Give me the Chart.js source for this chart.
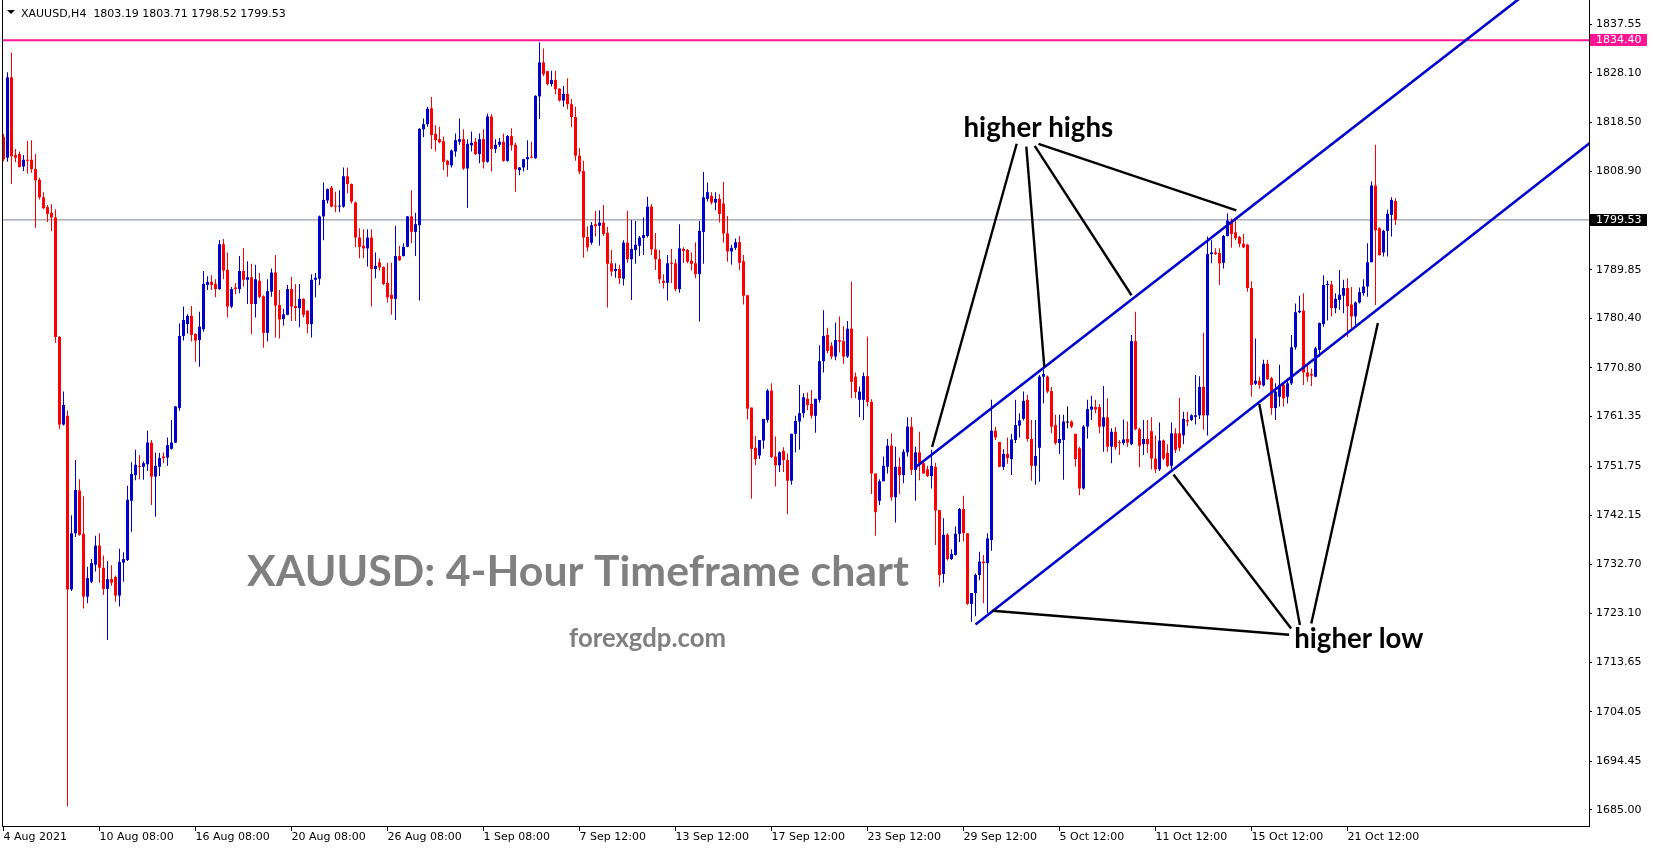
<!DOCTYPE html>
<html>
<head>
<meta charset="utf-8">
<title>XAUUSD H4</title>
<script src="https://cdn.jsdelivr.net/npm/chart.js@4.4.0/dist/chart.umd.min.js"></script>
<style>
  html, body { margin: 0; padding: 0; background: #fff; overflow: hidden; }
</style>
</head>
<body>
<canvas id="chart" width="1653" height="850"></canvas>
<script>
((Chart) => {

  // OHLC por vela H4 (indice 0 = 4 Aug 2021 00:00)
  const opens = [
    1815.6, 1811.6, 1827.2, 1812.1, 1812.3, 1809.9, 1811.2, 1811.2, 1809.4, 1807.3,
    1803.9, 1802.0, 1800.9, 1800.0, 1776.8, 1759.8, 1761.5, 1727.8, 1738.7, 1747.0,
    1738.6, 1726.4, 1729.3, 1732.6, 1736.3, 1732.0, 1727.9, 1729.8, 1730.2, 1726.6,
    1733.0, 1733.5, 1745.0, 1750.0, 1751.8, 1751.6, 1752.1, 1756.3, 1749.7, 1751.6,
    1753.6, 1753.4, 1755.1, 1756.3, 1763.0, 1777.0, 1779.3, 1780.9, 1777.4, 1776.2,
    1778.3, 1786.9, 1787.5, 1787.1, 1786.1, 1794.8, 1789.8, 1782.7, 1786.4, 1786.1,
    1789.6, 1787.9, 1788.4, 1783.2, 1787.7, 1784.7, 1777.6, 1785.6, 1789.3, 1783.0,
    1780.3, 1781.1, 1786.1, 1782.8, 1782.4, 1784.2, 1781.9, 1779.3, 1787.9, 1788.1,
    1800.2, 1803.3, 1805.8, 1802.2, 1802.1, 1802.1, 1808.0, 1806.5, 1802.9, 1796.1,
    1794.5, 1794.0, 1796.1, 1790.0, 1791.3, 1790.4, 1787.3, 1785.0, 1784.2, 1792.5,
    1792.5, 1794.3, 1800.2, 1797.2, 1798.5, 1817.1, 1818.1, 1821.2, 1816.2, 1815.2,
    1814.8, 1811.0, 1810.1, 1812.8, 1814.7, 1815.2, 1809.5, 1814.0, 1814.7, 1812.3,
    1815.2, 1810.8, 1819.6, 1813.3, 1814.1, 1814.7, 1811.0, 1815.8, 1814.1, 1809.2,
    1809.7, 1811.3, 1811.7, 1811.5, 1823.5, 1830.1, 1828.4, 1825.9, 1826.7, 1825.0,
    1822.7, 1824.0, 1822.0, 1819.5, 1812.0, 1809.0, 1796.2, 1795.1, 1798.7, 1798.4,
    1799.0, 1797.0, 1791.1, 1789.6, 1790.0, 1788.1, 1795.1, 1791.9, 1793.7, 1794.5,
    1796.0, 1796.4, 1802.1, 1793.8, 1791.9, 1787.7, 1787.3, 1791.2, 1791.1, 1786.1,
    1793.9, 1793.7, 1791.6, 1791.1, 1789.0, 1797.2, 1803.6, 1804.2, 1802.9, 1803.6,
    1802.7, 1796.9, 1793.4, 1794.1, 1795.2, 1791.5, 1784.9, 1763.1, 1755.3, 1753.8,
    1756.7, 1760.7, 1766.4, 1753.6, 1751.9, 1754.7, 1752.9, 1748.9, 1758.0, 1760.4,
    1762.0, 1764.8, 1763.8, 1761.5, 1764.6, 1772.1, 1777.2, 1775.1, 1773.0, 1776.2,
    1776.0, 1773.0, 1778.4, 1769.1, 1764.6, 1764.6, 1769.2, 1764.2, 1750.3, 1745.0,
    1748.8, 1751.6, 1755.7, 1745.7, 1751.6, 1750.0, 1754.4, 1759.4, 1751.0, 1754.4,
    1752.3, 1751.1, 1749.8, 1751.6, 1743.2, 1730.8, 1738.4, 1733.7, 1734.5, 1738.6,
    1743.4, 1738.7, 1725.0, 1727.1, 1730.6, 1733.2, 1732.9, 1737.4, 1758.6, 1756.4,
    1751.6, 1754.1, 1753.1, 1756.8, 1759.6, 1760.9, 1764.6, 1757.0, 1751.8, 1755.3,
    1769.1, 1769.1, 1766.3, 1759.7, 1756.2, 1756.8, 1760.2, 1760.4, 1758.0, 1755.2,
    1747.4, 1759.4, 1762.7, 1763.2, 1763.2, 1759.4, 1761.2, 1755.5, 1758.4, 1756.4,
    1756.2, 1757.0, 1756.0, 1776.0, 1758.9, 1756.0, 1757.0, 1758.5, 1753.2, 1751.1,
    1756.7, 1754.3, 1751.8, 1758.1, 1758.1, 1757.7, 1760.7, 1760.7, 1761.3, 1761.6,
    1767.1, 1761.6, 1792.9, 1793.2, 1793.1, 1791.2, 1796.4, 1799.2, 1797.1, 1796.2,
    1794.9, 1794.7, 1786.3, 1767.7, 1768.3, 1767.4, 1771.6, 1768.8, 1763.0, 1765.2,
    1767.5, 1765.2, 1767.8, 1774.8, 1781.6, 1781.9, 1769.9, 1769.6, 1769.1, 1774.3,
    1779.3, 1786.9, 1787.0, 1782.4, 1784.0, 1784.8, 1786.3, 1783.1, 1780.8, 1783.5,
    1785.3, 1786.6, 1791.3, 1806.2, 1797.9, 1793.2, 1797.4, 1800.5, 1803.19
  ];
  const highs = [
    1816.2, 1828.2, 1832.0, 1813.3, 1812.8, 1812.1, 1814.9, 1815.0, 1812.3, 1807.7,
    1804.9, 1802.4, 1802.6, 1801.6, 1777.0, 1766.2, 1762.6, 1742.2, 1752.9, 1749.2,
    1745.9, 1732.2, 1733.7, 1738.2, 1738.7, 1734.4, 1733.3, 1732.5, 1730.5, 1735.7,
    1735.0, 1747.9, 1752.5, 1754.9, 1753.9, 1752.7, 1758.6, 1756.8, 1754.4, 1754.3,
    1754.4, 1757.3, 1760.7, 1763.4, 1779.4, 1782.7, 1781.2, 1782.8, 1777.5, 1781.7,
    1789.6, 1788.6, 1788.8, 1788.0, 1795.6, 1795.8, 1793.2, 1786.5, 1787.3, 1792.5,
    1794.0, 1791.5, 1791.0, 1790.8, 1789.2, 1784.9, 1788.0, 1790.1, 1792.7, 1785.9,
    1782.3, 1786.9, 1788.5, 1787.1, 1787.1, 1784.3, 1782.0, 1789.0, 1789.2, 1800.4,
    1806.8, 1805.6, 1806.1, 1805.0, 1805.3, 1809.7, 1809.7, 1806.6, 1803.1, 1797.9,
    1797.7, 1797.7, 1797.7, 1793.2, 1792.1, 1790.5, 1791.2, 1791.2, 1798.4, 1794.5,
    1795.0, 1800.3, 1805.3, 1800.9, 1817.3, 1819.2, 1821.5, 1823.4, 1817.9, 1817.6,
    1815.7, 1811.2, 1813.2, 1816.3, 1819.2, 1817.1, 1815.2, 1816.7, 1815.4, 1816.3,
    1817.1, 1820.2, 1820.1, 1815.2, 1815.4, 1816.3, 1816.0, 1817.3, 1814.5, 1809.8,
    1811.4, 1815.0, 1814.7, 1823.7, 1834.0, 1832.8, 1828.5, 1828.5, 1828.5, 1825.1,
    1825.5, 1827.0, 1823.0, 1821.5, 1813.5, 1811.0, 1798.3, 1799.1, 1801.3, 1801.4,
    1802.4, 1798.2, 1793.7, 1791.1, 1790.8, 1795.6, 1801.3, 1799.5, 1799.3, 1796.4,
    1800.0, 1804.0, 1802.6, 1797.0, 1793.7, 1789.0, 1792.7, 1793.9, 1791.9, 1798.7,
    1794.2, 1793.9, 1793.2, 1795.2, 1799.3, 1808.8, 1806.8, 1804.9, 1804.9, 1804.5,
    1806.9, 1800.3, 1794.7, 1795.9, 1796.4, 1792.7, 1784.9, 1763.1, 1757.6, 1756.8,
    1760.9, 1766.7, 1767.8, 1757.5, 1754.6, 1755.4, 1754.2, 1758.0, 1761.5, 1767.5,
    1765.9, 1766.0, 1766.5, 1764.8, 1775.2, 1782.0, 1778.6, 1775.8, 1779.6, 1780.8,
    1778.9, 1779.9, 1787.5, 1769.9, 1767.2, 1769.9, 1776.9, 1764.7, 1750.3, 1749.2,
    1753.6, 1757.0, 1758.1, 1755.5, 1753.4, 1755.0, 1761.2, 1761.2, 1755.5, 1758.4,
    1752.7, 1751.8, 1754.9, 1752.4, 1743.2, 1741.6, 1738.7, 1735.6, 1740.0, 1743.6,
    1746.0, 1738.7, 1727.1, 1730.9, 1735.1, 1734.5, 1738.7, 1764.6, 1759.4, 1756.4,
    1755.0, 1757.3, 1758.0, 1764.6, 1762.0, 1766.2, 1765.6, 1760.7, 1760.7, 1769.4,
    1770.5, 1769.3, 1767.1, 1761.7, 1761.7, 1761.7, 1763.3, 1760.6, 1758.0, 1755.5,
    1759.7, 1764.6, 1765.4, 1764.6, 1763.8, 1767.3, 1764.9, 1759.1, 1759.4, 1756.8,
    1760.8, 1760.4, 1777.2, 1781.7, 1759.2, 1760.7, 1760.7, 1761.2, 1757.7, 1760.2,
    1756.9, 1756.0, 1760.2, 1759.1, 1765.0, 1762.3, 1762.3, 1761.8, 1769.4, 1769.2,
    1777.6, 1796.3, 1795.6, 1794.0, 1794.0, 1796.6, 1800.8, 1799.8, 1799.8, 1796.4,
    1796.8, 1794.9, 1787.6, 1776.5, 1769.1, 1772.4, 1772.4, 1769.1, 1767.8, 1771.4,
    1767.8, 1768.8, 1777.2, 1783.3, 1784.8, 1785.3, 1771.7, 1770.7, 1774.9, 1779.6,
    1788.8, 1787.7, 1787.7, 1785.3, 1789.8, 1787.9, 1788.2, 1786.5, 1783.7, 1786.4,
    1788.0, 1795.0, 1807.0, 1814.1, 1798.1, 1797.6, 1801.5, 1803.9, 1803.71
  ];
  const lows = [
    1810.9, 1810.8, 1806.5, 1810.7, 1809.7, 1809.0, 1808.5, 1808.7, 1798.0, 1803.5,
    1801.6, 1799.1, 1797.3, 1775.7, 1758.9, 1759.6, 1685.7, 1727.5, 1738.0, 1738.2,
    1724.1, 1725.1, 1729.0, 1731.3, 1729.1, 1726.7, 1718.0, 1728.5, 1725.4, 1724.5,
    1729.3, 1733.3, 1739.0, 1749.0, 1749.2, 1749.1, 1750.8, 1744.2, 1741.9, 1749.8,
    1752.3, 1751.8, 1754.9, 1756.2, 1762.5, 1776.1, 1777.5, 1775.9, 1772.0, 1771.0,
    1777.8, 1785.9, 1785.9, 1784.5, 1785.9, 1788.0, 1780.6, 1782.4, 1785.1, 1785.3,
    1786.6, 1783.2, 1777.4, 1780.6, 1784.3, 1774.7, 1775.9, 1784.6, 1776.7, 1776.5,
    1779.0, 1781.0, 1779.9, 1779.9, 1778.7, 1780.6, 1777.5, 1776.7, 1784.5, 1786.9,
    1795.6, 1802.7, 1802.0, 1801.0, 1801.0, 1801.9, 1804.7, 1802.7, 1794.2, 1792.1,
    1792.1, 1790.5, 1782.7, 1788.2, 1789.7, 1786.9, 1783.5, 1781.1, 1780.1, 1791.6,
    1792.4, 1794.2, 1795.0, 1792.5, 1783.9, 1815.6, 1817.6, 1813.3, 1812.8, 1814.4,
    1809.2, 1807.9, 1809.7, 1811.8, 1814.1, 1809.2, 1801.9, 1812.8, 1812.1, 1810.5,
    1809.5, 1810.6, 1808.9, 1812.5, 1813.7, 1810.8, 1810.8, 1813.0, 1805.0, 1808.2,
    1808.9, 1809.2, 1811.5, 1811.4, 1819.1, 1827.4, 1825.6, 1825.4, 1823.9, 1822.5,
    1821.5, 1821.0, 1817.5, 1811.0, 1808.4, 1792.2, 1793.4, 1794.7, 1796.3, 1794.5,
    1796.4, 1782.5, 1788.6, 1788.3, 1787.1, 1786.8, 1791.2, 1784.0, 1791.0, 1792.5,
    1792.7, 1796.1, 1792.7, 1789.8, 1787.2, 1786.2, 1783.9, 1787.3, 1785.7, 1785.4,
    1791.2, 1791.1, 1789.7, 1788.2, 1779.8, 1791.0, 1803.1, 1802.5, 1801.4, 1799.0,
    1795.1, 1791.4, 1790.8, 1793.7, 1789.8, 1783.1, 1760.8, 1745.4, 1751.9, 1753.1,
    1755.1, 1760.2, 1753.3, 1747.8, 1750.6, 1750.6, 1742.4, 1748.1, 1754.4, 1754.9,
    1761.1, 1762.6, 1761.0, 1758.2, 1764.1, 1769.9, 1773.6, 1772.5, 1772.3, 1773.8,
    1771.6, 1772.7, 1764.9, 1764.9, 1761.2, 1760.7, 1763.3, 1746.3, 1738.2, 1744.2,
    1748.8, 1750.3, 1745.0, 1740.8, 1746.3, 1748.4, 1753.6, 1750.0, 1745.0, 1749.0,
    1750.3, 1749.6, 1747.4, 1736.4, 1728.3, 1729.1, 1733.4, 1733.5, 1734.4, 1737.0,
    1737.1, 1724.8, 1721.5, 1722.6, 1729.6, 1725.1, 1723.2, 1735.3, 1756.8, 1751.5,
    1751.0, 1752.2, 1750.0, 1756.2, 1757.3, 1760.6, 1756.5, 1748.9, 1748.1, 1748.7,
    1763.9, 1765.9, 1758.1, 1755.9, 1754.1, 1749.1, 1759.1, 1759.1, 1751.6, 1746.1,
    1747.2, 1757.1, 1760.7, 1762.0, 1758.1, 1754.5, 1754.5, 1752.3, 1754.9, 1753.9,
    1755.8, 1755.5, 1755.8, 1758.7, 1751.5, 1753.9, 1754.3, 1751.1, 1750.4, 1750.8,
    1752.9, 1751.5, 1751.1, 1754.3, 1754.6, 1756.0, 1759.5, 1760.5, 1759.8, 1760.9,
    1758.8, 1757.7, 1791.1, 1792.7, 1786.9, 1790.1, 1796.3, 1794.1, 1795.6, 1794.2,
    1794.0, 1785.6, 1765.2, 1767.5, 1766.8, 1767.2, 1768.5, 1761.7, 1760.7, 1763.3,
    1763.3, 1763.9, 1767.5, 1774.3, 1781.4, 1767.5, 1768.1, 1767.3, 1769.0, 1773.0,
    1778.8, 1780.0, 1780.8, 1781.4, 1782.1, 1781.4, 1776.8, 1778.5, 1779.1, 1783.3,
    1784.8, 1784.6, 1791.3, 1783.0, 1792.6, 1792.4, 1792.4, 1796.3, 1798.52
  ];
  const closes = [
    1811.3, 1827.2, 1811.9, 1811.6, 1809.8, 1811.2, 1811.0, 1809.4, 1807.2, 1803.9,
    1801.8, 1800.7, 1800.0, 1776.8, 1759.8, 1763.6, 1727.8, 1738.7, 1747.1, 1738.4,
    1726.4, 1730.0, 1732.9, 1736.3, 1732.0, 1727.9, 1729.8, 1729.1, 1726.6, 1733.1,
    1733.7, 1745.2, 1750.2, 1752.0, 1751.6, 1752.3, 1756.3, 1749.7, 1751.8, 1753.3,
    1753.3, 1755.8, 1756.3, 1763.3, 1777.0, 1780.1, 1780.9, 1777.2, 1776.1, 1778.8,
    1787.1, 1787.5, 1786.9, 1786.1, 1794.8, 1789.7, 1782.7, 1786.1, 1786.1, 1789.6,
    1787.9, 1788.4, 1783.2, 1788.0, 1784.6, 1777.6, 1785.7, 1789.3, 1782.9, 1780.2,
    1781.2, 1786.1, 1782.7, 1782.4, 1784.2, 1781.1, 1779.3, 1787.9, 1788.3, 1800.2,
    1803.4, 1805.5, 1802.1, 1802.1, 1802.2, 1808.0, 1806.5, 1803.1, 1796.1, 1794.3,
    1794.0, 1796.1, 1790.0, 1790.6, 1790.3, 1787.1, 1784.5, 1784.2, 1792.5, 1791.7,
    1794.3, 1800.2, 1797.2, 1798.7, 1817.2, 1818.1, 1821.1, 1816.0, 1815.0, 1814.6,
    1810.8, 1810.2, 1813.0, 1815.0, 1815.2, 1809.5, 1814.3, 1814.5, 1812.3, 1815.2,
    1810.8, 1819.6, 1813.3, 1814.1, 1814.7, 1811.0, 1815.8, 1814.0, 1809.3, 1809.7,
    1811.3, 1811.7, 1811.6, 1823.6, 1830.1, 1827.8, 1825.9, 1826.7, 1824.9, 1822.7,
    1824.0, 1822.0, 1819.5, 1812.0, 1808.9, 1796.1, 1794.2, 1798.5, 1798.3, 1799.0,
    1796.8, 1791.0, 1789.5, 1790.0, 1788.2, 1795.1, 1791.9, 1793.9, 1794.7, 1796.1,
    1796.6, 1802.1, 1793.8, 1791.9, 1788.0, 1787.3, 1791.1, 1791.0, 1786.1, 1794.0,
    1793.5, 1791.4, 1791.0, 1789.0, 1797.4, 1803.9, 1804.9, 1802.9, 1803.6, 1800.7,
    1796.9, 1793.4, 1794.1, 1795.2, 1791.2, 1784.8, 1762.9, 1755.1, 1753.1, 1756.8,
    1760.9, 1766.4, 1753.5, 1751.9, 1754.4, 1752.9, 1748.9, 1758.0, 1760.5, 1762.0,
    1765.1, 1763.6, 1761.5, 1764.8, 1772.1, 1777.0, 1774.1, 1773.0, 1776.2, 1775.9,
    1773.0, 1778.4, 1768.1, 1766.1, 1766.2, 1769.2, 1764.2, 1750.3, 1742.8, 1748.8,
    1751.8, 1755.7, 1745.7, 1751.6, 1750.0, 1754.5, 1759.4, 1751.0, 1754.4, 1752.3,
    1750.3, 1749.8, 1751.8, 1743.1, 1730.6, 1738.4, 1733.7, 1734.7, 1738.6, 1743.4,
    1738.7, 1725.0, 1727.1, 1730.6, 1733.2, 1732.9, 1737.7, 1758.6, 1757.3, 1751.6,
    1754.1, 1753.3, 1756.9, 1759.7, 1760.6, 1764.4, 1757.0, 1751.8, 1753.7, 1769.1,
    1769.6, 1766.2, 1759.4, 1756.2, 1757.0, 1760.4, 1760.2, 1759.4, 1753.1, 1747.4,
    1759.4, 1762.8, 1763.3, 1762.7, 1759.4, 1761.2, 1755.5, 1758.4, 1755.4, 1756.2,
    1756.9, 1756.3, 1776.0, 1758.9, 1755.7, 1757.0, 1756.0, 1753.2, 1751.1, 1756.7,
    1753.2, 1751.8, 1758.1, 1754.9, 1755.3, 1760.9, 1760.4, 1761.6, 1761.6, 1767.1,
    1761.6, 1792.9, 1793.2, 1792.9, 1791.1, 1796.4, 1799.4, 1796.8, 1796.0, 1794.9,
    1794.2, 1786.3, 1767.5, 1768.3, 1767.5, 1771.6, 1768.6, 1763.0, 1766.2, 1767.5,
    1764.9, 1767.8, 1774.8, 1781.6, 1781.9, 1769.9, 1769.1, 1769.3, 1774.6, 1779.5,
    1786.9, 1787.1, 1782.4, 1784.2, 1785.0, 1786.3, 1782.8, 1780.8, 1783.5, 1785.5,
    1786.6, 1791.3, 1806.2, 1797.5, 1792.7, 1797.4, 1800.7, 1803.4, 1799.53
  ];

  // Etiquetas del eje de tiempo (cada 24 velas) y del eje de precios
  const xTickIdx = [0, 24, 48, 72, 96, 120, 144, 168, 192, 216, 240, 264, 288, 312, 336];
  const xTickLabels = ['4 Aug 2021', '10 Aug 08:00', '16 Aug 08:00', '20 Aug 08:00', '26 Aug 08:00',
    '1 Sep 08:00', '7 Sep 12:00', '13 Sep 12:00', '17 Sep 12:00', '23 Sep 12:00',
    '29 Sep 12:00', '5 Oct 12:00', '11 Oct 12:00', '15 Oct 12:00', '21 Oct 12:00'];
  const yTickVals = [1837.55, 1828.10, 1818.50, 1808.90, 1789.85, 1780.40, 1770.80, 1761.35,
    1751.75, 1742.15, 1732.70, 1723.10, 1713.65, 1704.05, 1694.45, 1685.00];

  // Niveles horizontales: resistencia y precio bid
  const levelVals = [1834.40, 1799.53];

  // Canal ascendente [vela, precio]
  const upperChannel = [[228, 1751.5], [380, 1843.1]];
  const lowerChannel = [[243, 1721.0], [397, 1814.7]];

  // Flechas de las anotaciones [vela, precio]
  const highPointers = [
    [[253.3, 1814.3], [232.15, 1755.45]],
    [[255.7, 1813.75], [260.2, 1770.97]],
    [[257.8, 1813.9], [282.0, 1784.9]],
    [[258.75, 1814.3], [308.2, 1801.37]]
  ];
  const lowPointers = [
    [[247.25, 1723.67], [321.4, 1719.0]],
    [[292.5, 1750.1], [321.9, 1720.2]],
    [[313.95, 1763.8], [324.1, 1720.9]],
    [[343.6, 1779.5], [326.95, 1721.2]]
  ];

  const notes = [
    { text: 'XAUUSD: 4-Hour Timeframe chart', at: [60.9, 1728.5], width: 662, color: '#808080' },
    { text: 'forexgdp.com', at: [141.4, 1716.6], width: 157, color: '#808080' },
    { text: 'higher highs', at: [240.0, 1815.6], width: 150, color: '#000000' },
    { text: 'higher low', at: [322.7, 1716.35], width: 129, color: '#000000' }
  ];

  const BULL = '#0000CD';
  const BEAR = '#FF0000';
  const DOJI = '#000000';
  const LEVEL_COLORS = ['#FF1493', '#7a848e'];
  const TAG_COLORS = ['#FF1493', '#000000'];
  const AXIS_FONT = { family: 'DejaVu Sans', size: 11 };

  // rango visible: 4 px por vela, 1587 px de ancho util
  const xMin = -0.375;
  const xMax = xMin + 1587 / 4;
  const yMin = 1681.88;
  const yMax = 1842.21;

  const candleColor = (i) => closes[i] > opens[i] ? BULL : (closes[i] < opens[i] ? BEAR : DOJI);

  const toPoints = (pairs) => pairs.map(([x, y]) => ({ x, y }));

  const lineSet = (pairs, color, width, order) => ({
    type: 'line',
    data: toPoints(pairs),
    borderColor: color,
    borderWidth: width,
    pointRadius: 0,
    fill: false,
    order
  });

  const app = {
    htmlElements: {
      canvas: document.getElementById('chart')
    },
    chartInstance: null,
    initialize() {
      app.render();
    },
    methods: {
      buildDatasets() {
        const sets = [];
        sets.push({
          type: 'bar',
          data: lows.map((l, i) => ({ x: i, y: [l, highs[i]] })),
          backgroundColor: (ctx) => candleColor(ctx.dataIndex),
          barThickness: 1,
          borderWidth: 0,
          inflateAmount: 0,
          stack: 'candle',
          order: 5
        });
        sets.push({
          type: 'bar',
          data: opens.map((o, i) => ({ x: i, y: [o, closes[i]] })),
          backgroundColor: (ctx) => candleColor(ctx.dataIndex),
          barThickness: 3,
          minBarLength: 1,
          borderWidth: 0,
          inflateAmount: 0,
          stack: 'candle',
          order: 4
        });
        // bid (debajo de las velas) y resistencia
        sets.push(lineSet([[xMin, levelVals[1]], [xMax, levelVals[1]]], LEVEL_COLORS[1], 1, 8));
        sets.push(lineSet([[xMin, levelVals[0]], [xMax, levelVals[0]]], LEVEL_COLORS[0], 2, 3));
        sets.push(lineSet(upperChannel, BULL, 2.6, 1));
        sets.push(lineSet(lowerChannel, BULL, 2.6, 1));
        highPointers.concat(lowPointers).forEach(p => sets.push(lineSet(p, '#000000', 2.4, 0)));
        return sets;
      },
      overlayPlugin() {
        return {
          id: 'overlay',
          afterDatasetsDraw(chart) {
            const { ctx, scales: { x, y } } = chart;
            ctx.save();
            notes.forEach(n => {
              ctx.font = 'bold 100px Lato';
              const size = 100 * n.width / ctx.measureText(n.text).width;
              ctx.font = `bold ${size.toFixed(1)}px Lato`;
              ctx.fillStyle = n.color;
              ctx.textAlign = 'left';
              ctx.textBaseline = 'alphabetic';
              ctx.fillText(n.text, x.getPixelForValue(n.at[0]), y.getPixelForValue(n.at[1]));
            });
            ctx.restore();
          },
          afterDraw(chart) {
            const { ctx, chartArea, scales: { y } } = chart;
            ctx.save();
            // borde izquierdo
            ctx.strokeStyle = '#000';
            ctx.lineWidth = 1;
            ctx.beginPath();
            ctx.moveTo(chartArea.left + 0.5, 0);
            ctx.lineTo(chartArea.left + 0.5, chartArea.bottom);
            ctx.stroke();

            // cabecera del simbolo
            ctx.fillStyle = '#000';
            ctx.beginPath();
            ctx.moveTo(7, 10);
            ctx.lineTo(15, 10);
            ctx.lineTo(11, 14);
            ctx.closePath();
            ctx.fill();
            ctx.font = '11px "DejaVu Sans"';
            ctx.textAlign = 'left';
            ctx.textBaseline = 'alphabetic';
            ctx.fillText('XAUUSD,H4  1803.19 1803.71 1798.52 1799.53', 21, 17);

            // etiquetas de precio en el eje
            levelVals.forEach((v, k) => {
              const py = Math.round(y.getPixelForValue(v));
              ctx.fillStyle = TAG_COLORS[k];
              ctx.fillRect(chartArea.right + 1, py - 6, 57, 12);
              ctx.fillStyle = '#fff';
              ctx.textBaseline = 'middle';
              ctx.fillText(v.toFixed(2), chartArea.right + 7, py + 0.5);
            });
            ctx.restore();
          }
        };
      }
    },
    render: () => {
      const ctx = app.htmlElements.canvas.getContext('2d');
      app.chartInstance = new Chart(ctx, {
        type: 'bar',
        data: { datasets: app.methods.buildDatasets() },
        options: {
          responsive: false,
          animation: false,
          events: [],
          layout: { padding: { left: 2, top: 0, right: 0, bottom: 0 } },
          plugins: { legend: { display: false }, tooltip: { enabled: false } },
          scales: {
            x: {
              type: 'linear',
              min: xMin,
              max: xMax,
              offset: false,
              position: 'bottom',
              afterBuildTicks: (s) => { s.ticks = xTickIdx.map(v => ({ value: v })); },
              afterFit: (s) => { s.height = 24; s.paddingLeft = 0; s.paddingRight = 0; },
              ticks: {
                autoSkip: false, maxRotation: 0, minRotation: 0, align: 'start', padding: 0,
                color: '#000', font: AXIS_FONT,
                callback: (v) => xTickLabels[xTickIdx.indexOf(v)]
              },
              grid: { drawOnChartArea: false, drawTicks: true, tickLength: 5, color: '#000', offset: false },
              border: { display: true, color: '#000', width: 1 }
            },
            y: {
              type: 'linear',
              position: 'right',
              min: yMin,
              max: yMax,
              stacked: false,
              afterBuildTicks: (s) => { s.ticks = yTickVals.slice().reverse().map(v => ({ value: v })); },
              afterFit: (s) => { s.width = 64; s.paddingTop = 0; s.paddingBottom = 0; },
              ticks: {
                autoSkip: false, padding: 4, color: '#000', font: AXIS_FONT,
                callback: (v) => v.toFixed(2)
              },
              grid: { drawOnChartArea: false, drawTicks: true, tickLength: 3, color: '#000' },
              border: { display: true, color: '#000', width: 1 }
            }
          }
        },
        plugins: [app.methods.overlayPlugin()]
      });
    }
  };
  app.initialize();
})(window.Chart);
</script>
</body>
</html>
